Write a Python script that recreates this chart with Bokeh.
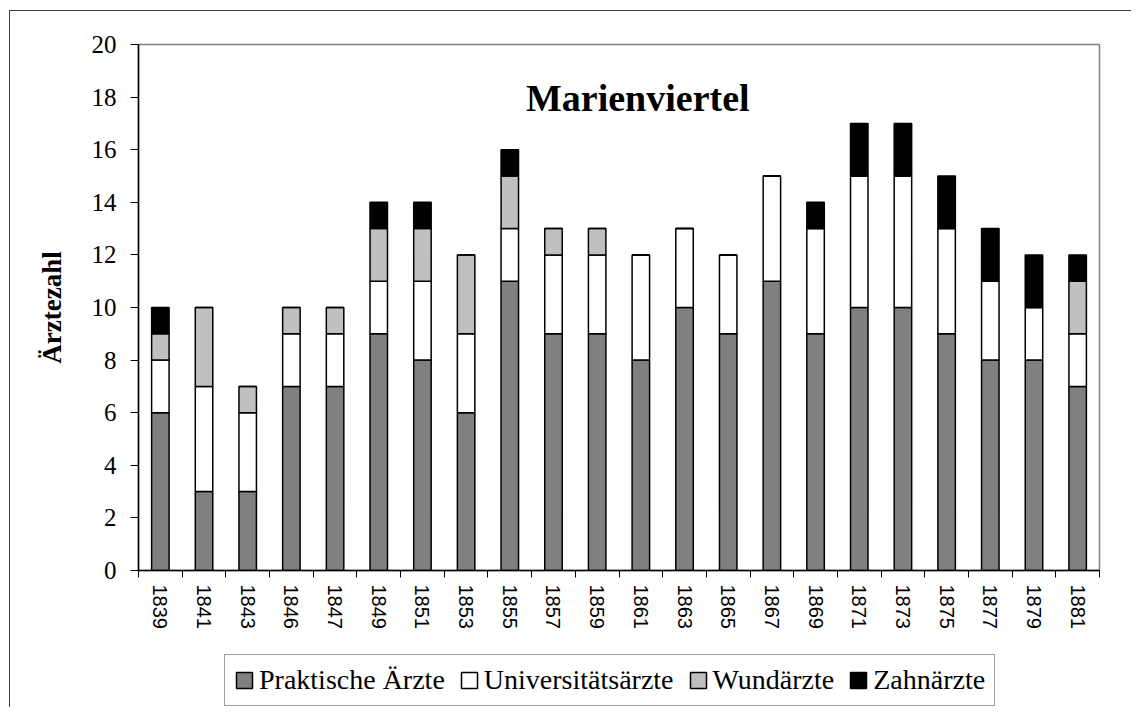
from bokeh.plotting import figure
from bokeh.models import ColumnDataSource, FixedTicker, Label, Range1d
from bokeh.layouts import column
from bokeh.embed import file_html
from bokeh.resources import INLINE

years = ["1839", "1841", "1843", "1846", "1847", "1849", "1851", "1853", "1855", "1857", "1859",
         "1861", "1863", "1865", "1867", "1869", "1871", "1873", "1875", "1877", "1879", "1881"]
praktische = [6, 3, 3, 7, 7, 9, 8, 6, 11, 9, 9, 8, 10, 9, 11, 9, 10, 10, 9, 8, 8, 7]
universitaet = [2, 4, 3, 2, 2, 2, 3, 3, 2, 3, 3, 4, 3, 3, 4, 4, 5, 5, 4, 3, 2, 2]
wund = [1, 3, 1, 1, 1, 2, 2, 3, 2, 1, 1, 0, 0, 0, 0, 0, 0, 0, 0, 0, 0, 2]
zahn = [1, 0, 0, 0, 0, 1, 1, 0, 1, 0, 0, 0, 0, 0, 0, 1, 2, 2, 2, 2, 2, 1]
series_names = ["Praktische Ärzte", "Universitätsärzte", "Wundärzte", "Zahnärzte"]
series_colors = ["#808080", "#ffffff", "#c0c0c0", "#000000"]
title_text = "Marienviertel"
y_label = "Ärztezahl"
y_ticks = list(range(0, 21, 2))

pos = list(range(1, len(years) + 1))
source = ColumnDataSource(dict(x=pos, p=praktische, u=universitaet, w=wund, z=zahn))
stack_cols = ["p", "u", "w", "z"]

W = 1131
H1, H2 = 652, 55
frame_line_l = "linear-gradient(#404040,#404040) 9px 0px / 1px 100% no-repeat"
frame_line_t = "linear-gradient(#404040,#404040) 9px 10px / 100% 1px no-repeat"
frame_line_l1 = "linear-gradient(#404040,#404040) 9px 10px / 1px 100% no-repeat"

p = figure(width=W, height=H1, output_backend="svg", toolbar_location=None,
           x_range=Range1d(0.5, len(years) + 0.5), y_range=Range1d(0, 20),
           min_border_left=138, min_border_top=44, min_border_right=32,
           min_border_bottom=H1 - 570)
p.styles = {"background": f"{frame_line_l1}, {frame_line_t}, white"}
p.background_fill_color = "white"
p.border_fill_alpha = 0
p.outline_line_color = "#808080"
p.outline_line_width = 1.5
p.xgrid.visible = False
p.ygrid.visible = False

p.vbar_stack(stack_cols, x="x", width=0.4, source=source,
             fill_color=series_colors, line_color="black", line_width=1.5)

# x axis: labels at category centres, ticks at category boundaries
xa = p.xaxis[0]
xa.ticker = FixedTicker(ticks=pos, minor_ticks=[i + 0.5 for i in range(0, len(years) + 1)])
xa.major_label_overrides = {i: y for i, y in zip(pos, years)}
xa.major_tick_line_color = None
xa.major_tick_out = 0
xa.major_tick_in = 0
xa.minor_tick_line_color = "black"
xa.minor_tick_out = 7
xa.minor_tick_in = 0
xa.major_label_orientation = "vertical"
xa.major_label_standoff = 7
xa.major_label_text_font = "Liberation Sans"
xa.major_label_text_font_size = "20px"
xa.major_label_text_color = "black"
xa.axis_line_color = "black"
xa.axis_line_width = 1.5

ya = p.yaxis[0]
ya.ticker = FixedTicker(ticks=y_ticks)
ya.minor_tick_line_color = None
ya.major_tick_out = 8
ya.major_tick_in = 0
ya.major_tick_line_color = "black"
ya.major_label_standoff = 14
ya.major_label_text_font = "Liberation Serif"
ya.major_label_text_font_size = "25px"
ya.major_label_text_color = "black"
ya.axis_line_color = "black"
ya.axis_line_width = 1.5
ya.axis_label = y_label
ya.axis_label_text_font = "Liberation Serif"
ya.axis_label_text_font_style = "bold"
ya.axis_label_text_font_size = "27px"
ya.axis_label_text_color = "black"
ya.axis_label_standoff = 22

p.add_layout(Label(x=11.93, y=17.95, text=title_text, text_align="center",
                   text_baseline="alphabetic", text_font="Liberation Serif",
                   text_font_style="bold", text_font_size="38px", text_color="black"))

# legend strip below the chart (hidden renderers of the same data, only the legend shows)
p2 = figure(width=W, height=H2, output_backend="svg", toolbar_location=None,
            x_range=Range1d(0.5, len(years) + 0.5), y_range=Range1d(0, 20),
            min_border_left=0, min_border_right=0, min_border_top=0, min_border_bottom=0)
p2.styles = {"background": f"{frame_line_l}, white"}
p2.axis.visible = False
p2.grid.visible = False
p2.outline_line_color = None
p2.background_fill_alpha = 0
p2.border_fill_alpha = 0
rs2 = p2.vbar_stack(stack_cols, x="x", width=0.4, source=source,
                    fill_color=series_colors, line_color="black", line_width=1.5,
                    legend_label=series_names)
for r in rs2:
    r.visible = False

lg = p2.legend[0]
lg.click_policy = "none"
lg.orientation = "horizontal"
lg.location = (86, 1)
lg.border_line_color = "#404040"
lg.border_line_width = 1.5
lg.background_fill_color = "white"
lg.background_fill_alpha = 1
lg.label_text_font = "Liberation Serif"
lg.label_text_font_size = "28px"
lg.label_text_color = "black"
lg.glyph_width = 20
lg.glyph_height = 20
lg.label_standoff = 5
lg.spacing = 14
lg.padding = 9
lg.margin = 0

layout = column(p, p2, spacing=0)
open("out.html", "w").write(file_html(layout, INLINE))
